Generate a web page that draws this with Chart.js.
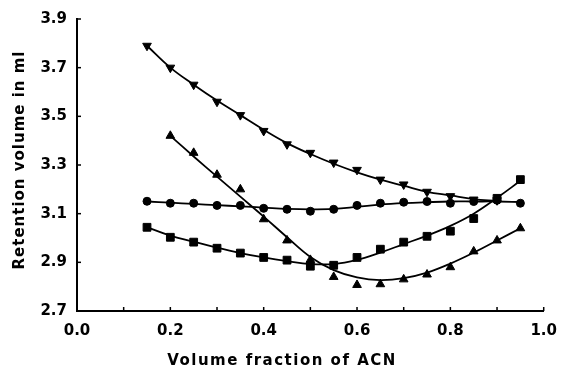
<!DOCTYPE html>
<html>
<head>
<meta charset="utf-8">
<script src="https://cdn.jsdelivr.net/npm/chart.js@4"></script>
<style>
  html, body { margin: 0; padding: 0; background: #fff; }
  #wrap { width: 568px; height: 371px; }
</style>
</head>
<body>
<div id="wrap"><canvas id="retChart"></canvas></div>
<script>
// volume fraction of ACN (x positions of measurements)
var fraction = [0.15, 0.2, 0.25, 0.3, 0.35, 0.4, 0.45, 0.5, 0.55, 0.6, 0.65, 0.7, 0.75, 0.8, 0.85, 0.9, 0.95];

// measured retention volumes (ml)
var downTri = [3.79, 3.70, 3.63, 3.56, 3.505, 3.44, 3.385, 3.35, 3.31, 3.28, 3.24, 3.22, 3.19, 3.172, 3.158, 3.155];
var circles = [3.151, 3.143, 3.143, 3.134, 3.134, 3.122, 3.118, 3.11, 3.118, 3.134, 3.143, 3.147, 3.15, 3.143, 3.15, 3.155, 3.143];
var squares = [3.044, 3.003, 2.983, 2.958, 2.938, 2.92, 2.909, 2.884, 2.888, 2.92, 2.954, 2.983, 3.007, 3.028, 3.08, 3.163, 3.24];
var upTri = [3.42, 3.35, 3.26, 3.20, 3.077, 2.99, 2.91, 2.84, 2.807, 2.81, 2.83, 2.85, 2.88, 2.945, 2.99, 3.04];

// fitted curves as drawn in the figure
var downTriFit = [3.79, 3.70, 3.63, 3.565, 3.505, 3.445, 3.39, 3.345, 3.305, 3.27, 3.24, 3.215, 3.19, 3.175, 3.16, 3.152];
var circlesFit = [3.15, 3.145, 3.14, 3.135, 3.13, 3.125, 3.12, 3.118, 3.12, 3.128, 3.137, 3.143, 3.147, 3.15, 3.15, 3.15, 3.148];
var squaresFit = [3.045, 3.01, 2.985, 2.96, 2.938, 2.92, 2.905, 2.893, 2.893, 2.91, 2.94, 2.975, 3.01, 3.05, 3.1, 3.165, 3.235];
var upTriFit = [3.42, 3.335, 3.252, 3.17, 3.088, 3.003, 2.922, 2.868, 2.838, 2.827, 2.835, 2.858, 2.895, 2.94, 2.99, 3.04];

var xTitle = 'Volume fraction of ACN';
var yTitle = 'Retention volume in ml';

function pts(xs, ys, offset) {
    var out = [];
    for (var i = 0; i < ys.length; i++) {
        out.push({x: xs[i + offset], y: ys[i]});
    }
    return out;
}

function fitSet(data) {
    return {
        type: 'line', data: data, borderColor: '#000', borderWidth: 1.8,
        pointRadius: 0, tension: 0.4, fill: false
    };
}

function markSet(data, style, size, rot) {
    return {
        type: 'scatter', data: data, showLine: false,
        pointStyle: style, pointRadius: size, pointRotation: rot || 0,
        backgroundColor: '#000', borderColor: '#000', borderWidth: 1
    };
}

// inward tick marks and axis titles
var axisExtras = {
    id: 'axisExtras',
    afterDraw: function(chart) {
        var ctx = chart.ctx;
        var area = chart.chartArea;
        var xs = chart.scales.x, ys = chart.scales.y;
        ctx.save();
        ctx.strokeStyle = '#000';
        ctx.lineWidth = 1.5;
        xs.ticks.forEach(function(t) {
            var p = xs.getPixelForValue(t.value);
            ctx.beginPath();
            ctx.moveTo(p, area.bottom);
            ctx.lineTo(p, area.bottom - 4);
            ctx.stroke();
        });
        ys.ticks.forEach(function(t) {
            var p = ys.getPixelForValue(t.value);
            ctx.beginPath();
            ctx.moveTo(area.left, p);
            ctx.lineTo(area.left + 4, p);
            ctx.stroke();
        });
        ctx.fillStyle = '#000';
        ctx.font = 'bold 15px "DejaVu Sans"';
        ctx.textAlign = 'center';
        ctx.textBaseline = 'middle';
        ctx.letterSpacing = '1.5px';
        ctx.fillText(xTitle, 282, 361);
        ctx.letterSpacing = '1px';
        ctx.translate(20, 160);
        ctx.rotate(-Math.PI / 2);
        ctx.fillText(yTitle, 0, 0);
        ctx.restore();
    }
};

var ctx = document.getElementById('retChart').getContext('2d');
var retChart = new Chart(ctx, {
    type: 'scatter',
    data: {
        datasets: [
            fitSet(pts(fraction, downTriFit, 0)),
            fitSet(pts(fraction, circlesFit, 0)),
            fitSet(pts(fraction, squaresFit, 0)),
            fitSet(pts(fraction, upTriFit, 1)),
            markSet(pts(fraction, downTri, 0), 'triangle', 5, 180),
            markSet(pts(fraction, circles, 0), 'circle', 4),
            markSet(pts(fraction, squares, 0), 'rect', 5.5),
            markSet(pts(fraction, upTri, 1), 'triangle', 5)
        ]
    },
    options: {
        responsive: true,
        maintainAspectRatio: false,
        animation: false,
        layout: {
            padding: {left: 0, right: 14, top: 18, bottom: 0}
        },
        plugins: {
            legend: {display: false},
            tooltip: {enabled: false}
        },
        scales: {
            x: {
                type: 'linear', min: 0, max: 1,
                afterFit: function(s) { s.height = 60; },
                border: {display: true, color: '#000', width: 2},
                grid: {drawOnChartArea: false, drawTicks: false},
                ticks: {
                    stepSize: 0.1, padding: 11, color: '#000', maxRotation: 0, autoSkip: false,
                    font: {family: 'DejaVu Sans', size: 15, weight: 'bold'},
                    callback: function(v) {
                        var k = Math.round(v * 10);
                        return k % 2 === 0 ? (k / 10).toFixed(1) : '';
                    }
                }
            },
            y: {
                type: 'linear', min: 2.7, max: 3.9,
                afterFit: function(s) { s.width = 77; },
                border: {display: true, color: '#000', width: 2},
                grid: {drawOnChartArea: false, drawTicks: false},
                ticks: {
                    stepSize: 0.2, padding: 10, color: '#000',
                    font: {family: 'DejaVu Sans', size: 15, weight: 'bold'},
                    callback: function(v) { return v.toFixed(1); }
                }
            }
        }
    },
    plugins: [axisExtras]
});
</script>
</body>
</html>
